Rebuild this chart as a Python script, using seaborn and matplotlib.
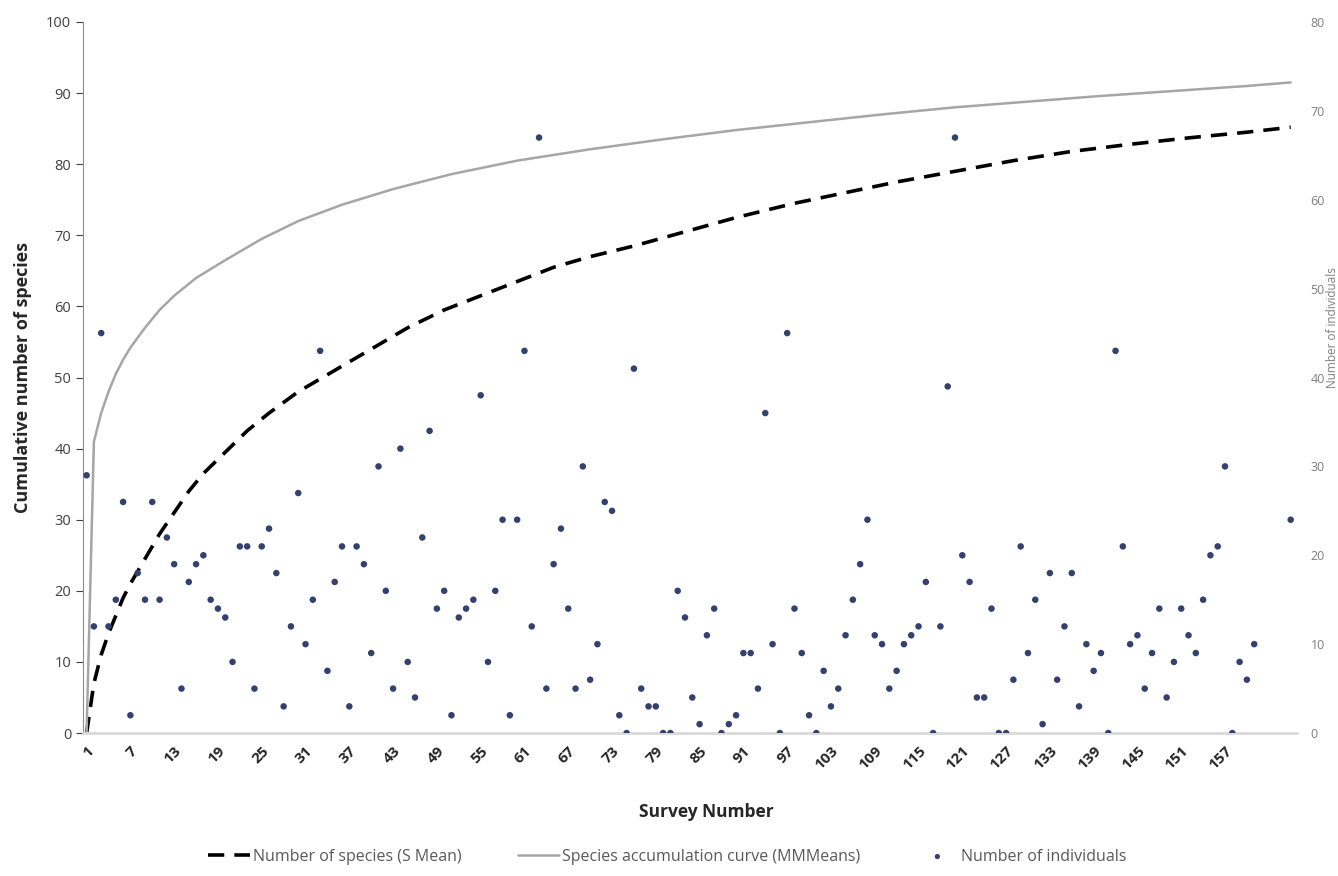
import matplotlib
matplotlib.use("Agg")
import numpy as np
import pandas as pd
import matplotlib.pyplot as plt
import seaborn as sns

sns.set_style("white")
plt.rcParams['font.family'] = ['Open Sans', 'DejaVu Sans']

# Number of species (S Mean)
smean_survey = [1, 2, 3, 4, 5, 6, 7, 9, 11, 13, 15, 17, 20, 23, 26, 30, 35, 40, 45, 50,
                55, 60, 65, 70, 76, 83, 90, 98, 105, 112, 120, 128, 136, 144, 152, 160, 166]
smean_values = [0, 7, 11, 14, 16.5, 19, 21, 24.5, 28, 31, 34, 36.5, 39.5, 42.5, 45, 48, 51, 54, 57, 59.5,
                61.5, 63.5, 65.5, 67, 68.5, 70.5, 72.5, 74.5, 76, 77.5, 79, 80.5, 81.8, 82.8, 83.7, 84.5, 85.2]

# Species accumulation curve (MMMeans)
mm_survey = [1, 2, 3, 4, 5, 6, 7, 9, 11, 13, 16, 20, 25, 30, 36, 43, 51, 60, 70, 80,
             90, 100, 110, 120, 130, 140, 150, 160, 166]
mm_values = [0, 41, 45, 48, 50.5, 52.5, 54.2, 57, 59.5, 61.5, 64, 66.5, 69.5, 72, 74.3, 76.5, 78.6, 80.5, 82.1, 83.5,
             84.8, 85.9, 87, 88, 88.8, 89.6, 90.3, 91, 91.5]

# Number of individuals per survey (right axis)
ind_survey = list(range(1, 162)) + [166]
individuals = [29, 12, 45, 12, 15, 26, 2, 18, 15, 26, 15, 22, 19, 5, 17, 19, 20, 15, 14, 13,
               8, 21, 21, 5, 21, 23, 18, 3, 12, 27, 10, 15, 43, 7, 17, 21, 3, 21, 19, 9,
               30, 16, 5, 32, 8, 4, 22, 34, 14, 16, 2, 13, 14, 15, 38, 8, 16, 24, 2, 24,
               43, 12, 67, 5, 19, 23, 14, 5, 30, 6, 10, 26, 25, 2, 0, 41, 5, 3, 3, 0,
               0, 16, 13, 4, 1, 11, 14, 0, 1, 2, 9, 9, 5, 36, 10, 0, 45, 14, 9, 2,
               0, 7, 3, 5, 11, 15, 19, 24, 11, 10, 5, 7, 10, 11, 12, 17, 0, 12, 39, 67,
               20, 17, 4, 4, 14, 0, 0, 6, 21, 9, 15, 1, 18, 6, 12, 18, 3, 10, 7, 9,
               0, 43, 21, 10, 11, 5, 9, 14, 4, 8, 14, 11, 9, 15, 20, 21, 30, 0, 8, 6,
               10, 24]

x_ticks = list(range(1, 158, 6))

smean_df = pd.DataFrame({"survey": smean_survey, "species": smean_values})
mm_df = pd.DataFrame({"survey": mm_survey, "species": mm_values})
ind_df = pd.DataFrame({"survey": ind_survey, "individuals": individuals})

fig = plt.figure(figsize=(13.38, 8.76), dpi=100)
ax = fig.add_axes([0.062, 0.1632, 0.907, 0.8117])
ax2 = ax.twinx()

sns.lineplot(data=smean_df, x="survey", y="species", ax=ax, color="black",
             linewidth=2.6, linestyle=(0, (4.5, 2.8)), label="Number of species (S Mean)")
sns.lineplot(data=mm_df, x="survey", y="species", ax=ax, color="#a6a6a6",
             linewidth=1.8, label="Species accumulation curve (MMMeans)")
sns.scatterplot(data=ind_df, x="survey", y="individuals", ax=ax2, color="#34406e",
                s=22, edgecolor="none", label="Number of individuals")

ax.set_xlim(0.5, 166.8)
ax.set_ylim(0, 100)
ax2.set_ylim(0, 80)
ax.set_yticks(range(0, 101, 10))
ax2.set_yticks(range(0, 81, 10))
ax.set_xticks(x_ticks)
ax.set_xticklabels([str(t) for t in x_ticks], rotation=45, ha="right",
                   rotation_mode="anchor", fontsize=11, fontweight="bold")
ax.tick_params(axis="x", length=0, pad=8)
ax.tick_params(axis="y", labelsize=10.5, colors="#404040", length=5, direction="out", left=True)
ax2.tick_params(axis="y", labelsize=9, colors="#7f7f7f", length=0, pad=10)

for s in ["top", "right"]:
    ax.spines[s].set_visible(False)
    ax2.spines[s].set_visible(False)
ax2.spines["left"].set_visible(False)
ax2.spines["bottom"].set_visible(False)
ax.spines["left"].set_color("#8c8c8c")
ax.spines["bottom"].set_color("#d9d9d9")
ax.spines["bottom"].set_linewidth(2)

ax.set_xlabel("Survey Number", fontsize=12.5, fontweight="bold")
ax.xaxis.set_label_coords(0.514, -0.099)
ax.set_ylabel("Cumulative number of species", fontsize=13, fontweight="bold", labelpad=10)
ax2.set_ylabel("Number of individuals", fontsize=8.5, color="#7f7f7f", rotation=90)
ax2.yaxis.set_label_coords(1.0245, 0.57)

h1, l1 = ax.get_legend_handles_labels()
h2, l2 = ax2.get_legend_handles_labels()
ax.get_legend().remove()
ax2.get_legend().remove()
fig.legend(h1 + h2, l1 + l2, loc="center", bbox_to_anchor=(0.499, 0.022), ncol=3,
           frameon=False, fontsize=11.5, labelcolor="#595959", columnspacing=3.5,
           handlelength=2.6, handletextpad=0.2, markerscale=0.8)

fig.savefig("out.png", dpi=100)
